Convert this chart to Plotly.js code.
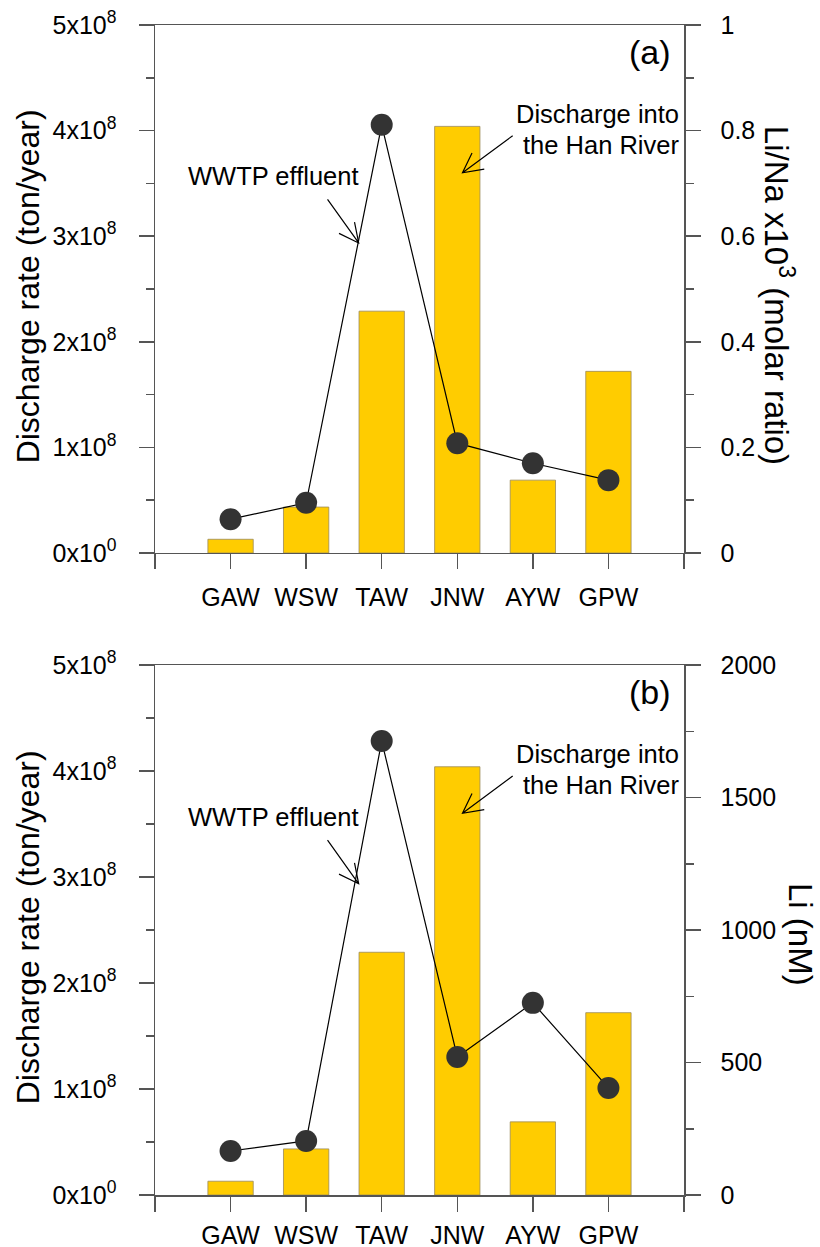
<!DOCTYPE html>
<html>
<head>
<meta charset="utf-8">
<script src="https://cdn.plot.ly/plotly-3.0.1.min.js"></script>
<style>
  html, body { margin: 0; padding: 0; background: #fff; }
  #chart { width: 820px; height: 1247px; }
</style>
</head>
<body>
<div id="chart"></div>
<script>
// ---- data ----
const categories = ['GAW', 'WSW', 'TAW', 'JNW', 'AYW', 'GPW'];
const dischargeRate = [1.3e7, 4.35e7, 2.29e8, 4.04e8, 6.9e7, 1.72e8];   // ton/year
const liNaRatio = [0.064, 0.095, 0.811, 0.208, 0.170, 0.138];           // Li/Na x10^3
const liConc = [166, 204, 1713, 521, 725, 404];                          // nM
const leftTickVals = [0, 1e8, 2e8, 3e8, 4e8, 5e8];
const leftTickText = ['0x10<sup>0</sup>', '1x10<sup>8</sup>', '2x10<sup>8</sup>',
                      '3x10<sup>8</sup>', '4x10<sup>8</sup>', '5x10<sup>8</sup>'];

// ---- derived ----
const xPos = categories.map((c, i) => i + 1);
const xEdgeTicks = [0, categories.length + 1];

const AX = '#555';
const FONT = 'Liberation Sans, Arial, Helvetica, sans-serif';

function xAxis(anchor, standoff) {
  return {
    anchor: anchor, domain: [0, 1], range: [0, categories.length + 1],
    tickmode: 'array', tickvals: xPos, ticktext: categories,
    ticks: 'outside', ticklen: 15, tickwidth: 1.5, tickcolor: AX,
    minor: { tickmode: 'array', tickvals: xEdgeTicks, ticks: 'outside', ticklen: 15, tickwidth: 1.5, tickcolor: AX },
    showline: true, linecolor: AX, linewidth: 1.5, mirror: true,
    showgrid: false, zeroline: false, fixedrange: true,
    tickfont: { size: 25, color: '#000' }, ticklabelstandoff: standoff
  };
}
function leftAxis(domain, anchor) {
  return {
    domain: domain, anchor: anchor, range: [0, 5e8],
    tickmode: 'array', tickvals: leftTickVals, ticktext: leftTickText,
    ticks: 'outside', ticklen: 15, tickwidth: 1.5, tickcolor: AX,
    minor: { ticks: 'outside', ticklen: 8, tickwidth: 1.5, tickcolor: AX, tickmode: 'linear', tick0: 0, dtick: 5e7 },
    showline: true, linecolor: AX, linewidth: 1.5,
    showgrid: false, zeroline: false, fixedrange: true,
    tickfont: { size: 25, color: '#000' }, ticklabelstandoff: 17
  };
}
function rightAxis(over, anchor, max, dtick) {
  return {
    overlaying: over, anchor: anchor, side: 'right', range: [0, max],
    tickmode: 'linear', tick0: 0, dtick: dtick,
    ticks: 'outside', ticklen: 15, tickwidth: 1.5, tickcolor: AX,
    minor: { ticks: 'outside', ticklen: 8, tickwidth: 1.5, tickcolor: AX, tickmode: 'linear', tick0: 0, dtick: dtick / 2 },
    showline: true, linecolor: AX, linewidth: 1.5,
    showgrid: false, zeroline: false, fixedrange: true,
    tickfont: { size: 25, color: '#000' }, ticklabelstandoff: 15
  };
}

function barTrace(xa, ya) {
  return {
    type: 'bar', x: xPos, y: dischargeRate, xaxis: xa, yaxis: ya, width: 0.6,
    marker: { color: '#FFCC00', line: { color: '#9a8a5a', width: 0.8 } },
    hoverinfo: 'skip'
  };
}
function lineTrace(xa, ya, vals) {
  return {
    type: 'scatter', mode: 'lines+markers', x: xPos, y: vals, xaxis: xa, yaxis: ya,
    line: { color: '#000', width: 1.2 },
    marker: { size: 22, color: '#333333' },
    cliponaxis: false, hoverinfo: 'skip'
  };
}

const data = [
  barTrace('x', 'y'), lineTrace('x', 'y2', liNaRatio),
  barTrace('x2', 'y3'), lineTrace('x2', 'y4', liConc)
];

// annotation arrows (open V heads), in discharge-axis data units
function arrowPath(tail, head, b1, b2) {
  return `M${tail[0]},${tail[1]} L${head[0]},${head[1]} M${b1[0]},${b1[1]} L${head[0]},${head[1]} L${b2[0]},${b2[1]}`;
}
const hanArrow = arrowPath([4.733, 3.952e8], [4.069, 3.601e8], [4.195, 3.788e8], [4.357, 3.636e8]);
const wwtpArrow = arrowPath([2.283, 3.348e8], [2.695, 2.936e8], [2.640, 3.134e8], [2.435, 3.027e8]);

const shapes = [];
[['x', 'y'], ['x2', 'y3']].forEach(([xr, yr]) => {
  [hanArrow, wwtpArrow].forEach(p => shapes.push({
    type: 'path', xref: xr, yref: yr, path: p, line: { color: '#000', width: 1.2 }
  }));
});

const annotations = [];
function panelAnnots(xr, yr, label, rightTitle, rightX, rightY) {
  annotations.push(
    { xref: xr + ' domain', yref: yr + ' domain', x: 0.9348, y: 0.949, text: label,
      showarrow: false, xanchor: 'center', yanchor: 'middle', font: { size: 34 } },
    { xref: xr, yref: yr, x: 6.96, y: 4.157e8, text: 'Discharge into',
      showarrow: false, xanchor: 'right', yanchor: 'middle', font: { size: 25.5 } },
    { xref: xr, yref: yr, x: 6.96, y: 3.864e8, text: 'the Han River',
      showarrow: false, xanchor: 'right', yanchor: 'middle', font: { size: 25.5 } },
    { xref: xr, yref: yr, x: 1.571, y: 3.57e8, text: 'WWTP effluent',
      showarrow: false, xanchor: 'center', yanchor: 'middle', font: { size: 25.5 } },
    { xref: 'paper', yref: yr + ' domain', x: -0.2401, y: 0.505, text: 'Discharge rate (ton/year)',
      textangle: -90, showarrow: false, xanchor: 'center', yanchor: 'middle', font: { size: 32 } },
    { xref: 'paper', yref: yr + ' domain', x: rightX, y: rightY, text: rightTitle,
      textangle: 90, showarrow: false, xanchor: 'center', yanchor: 'middle', font: { size: 33 } }
  );
}
panelAnnots('x', 'y', '(a)', 'Li/Na x10<sup>3</sup> (molar ratio)', 1.1796, 0.489);
panelAnnots('x2', 'y3', '(b)', 'Li (nM)', 1.2193, 0.4925);

const layout = {
  width: 820, height: 1247,
  margin: { l: 155, r: 136, t: 25, b: 52, pad: 0 },
  paper_bgcolor: '#fff', plot_bgcolor: '#fff',
  showlegend: false, barmode: 'overlay',
  font: { family: FONT, color: '#000', size: 25 },
  xaxis: xAxis('y', 7),
  yaxis: leftAxis([0.54872, 1], 'x'),
  yaxis2: rightAxis('y', 'x', 1, 0.2),
  xaxis2: xAxis('y3', 2),
  yaxis3: leftAxis([0, 0.45299], 'x2'),
  yaxis4: rightAxis('y3', 'x2', 2000, 500),
  shapes: shapes,
  annotations: annotations
};

Plotly.newPlot('chart', data, layout, { staticPlot: true, displayModeBar: false });
</script>
</body>
</html>
